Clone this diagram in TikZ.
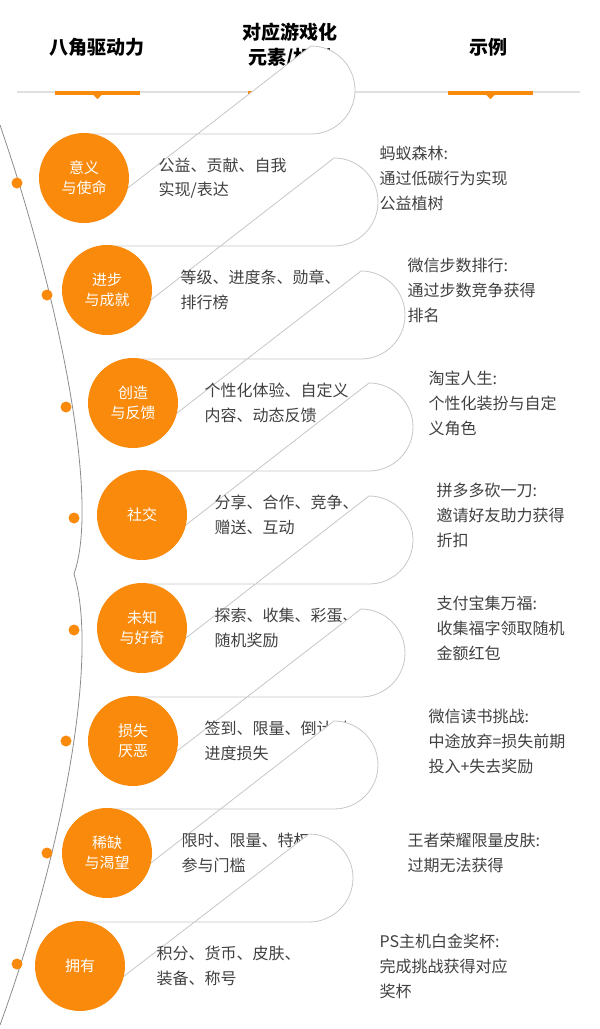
\documentclass[tikz,border=0pt]{standalone}
\usepackage{fontspec}
\setmainfont{Noto Sans CJK SC}
\newfontfamily\cjkb{Noto Sans CJK SC Bold}
\definecolor{org}{HTML}{F98A0C}
\definecolor{txt}{HTML}{404040}
\begin{document}
\begin{tikzpicture}[x=1pt,y=-1pt,
  head/.style={font=\fontsize{19}{25}\selectfont\bfseries, align=center},
  circ/.style={circle, fill=org, minimum size=90pt, inner sep=0pt, text=white, font=\fontsize{15}{20}\selectfont, align=center},
  pill/.style={draw=black!22, line width=0.8pt, fill=white},
  mech/.style={anchor=west, text=txt, font=\fontsize{16}{24.5}\selectfont, align=left},
  ex/.style={anchor=west, text=txt, font=\fontsize{16}{25}\selectfont, align=left},
  dotn/.style={circle, fill=org, minimum size=11pt, inner sep=0pt}]
\useasboundingbox (0,0) rectangle (600,1029);
\node[head] (h1) at (97,47) {八角驱动力};
\node[head] (h2) at (290,45) {对应游戏化\\元素/机制};
\node[head] (h3) at (488,47) {示例};
\draw[black!12, line width=1.2pt] (17,92) -- (580,92);
\foreach \a/\b in {55/140,248/334,448/533}{
  \fill[org] (\a,91) rectangle (\b,94.5);
  \fill[org] ({(\a+\b)/2-5},94) -- ({(\a+\b)/2+5},94) -- ({(\a+\b)/2},99) -- cycle;
}
\draw[black!45, line width=0.8pt] (0,125) .. controls (60,300) and (100,500) .. (74,574)
  .. controls (100,660) and (60,860) .. (0,1025);
\foreach \i/\y/\cx/\rx/\dx/\dy/\mx/\ex/\c/\m/\e in {
 1/178/84/355/17/183/155/376/{意义\\与使命}/{公益、贡献、自我\\实现/表达}/{蚂蚁森林:\\通过低碳行为实现\\公益植树},
 2/290/107/378/47/295/177/404/{进步\\与成就}/{等级、进度条、勋章、\\排行榜}/{微信步数排行:\\通过步数竞争获得\\排名},
 3/403/133/405/66/407/201/425/{创造\\与反馈}/{个性化体验、自定义\\内容、动态反馈}/{淘宝人生:\\个性化装扮与自定\\义角色},
 4/515/142/413/74/518/211/433/{社交}/{分享、合作、竞争、\\赠送、互动}/{拼多多砍一刀:\\邀请好友助力获得\\折扣},
 5/628/142/413/74/630/211/433/{未知\\与好奇}/{探索、收集、彩蛋、\\随机奖励}/{支付宝集万福:\\收集福字领取随机\\金额红包},
 6/741/133/405/66/741/201/425/{损失\\厌恶}/{签到、限量、倒计时、\\进度损失}/{微信读书挑战:\\中途放弃=损失前期\\投入+失去奖励},
 7/853/107/378/47/853/178/404/{稀缺\\与渴望}/{限时、限量、特权、\\参与门槛}/{王者荣耀限量皮肤:\\过期无法获得},
 8/966/80/353/17/964/153/376/{拥有}/{积分、货币、皮肤、\\装备、称号}/{PS主机白金奖杯:\\完成挑战获得对应\\奖杯}}{
  \draw[pill] (\cx,\y-44) -- (\rx-44,\y-44) arc (90:-90:44) -- (\cx,\y+44) -- cycle;
  \node[circ] (c\i) at (\cx,\y) {\c};
  \node[dotn] (d\i) at (\dx,\dy) {};
  \node[mech] (m\i) at (\mx,\y) {\m};
  \node[ex] (e\i) at (\ex,\y) {\e};
}
\end{tikzpicture}
\end{document}
